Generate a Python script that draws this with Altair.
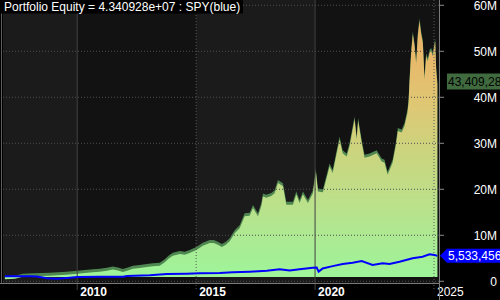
import altair as alt
import pandas as pd

# ---- data (decimal year, value in millions of dollars) ----
eq_year = [2006.96, 2007.38, 2007.71, 2008.14, 2008.52, 2008.85, 2009.19, 2009.55, 2010.00, 2010.32,
           2010.66, 2010.95, 2011.25, 2011.50, 2011.71, 2011.92, 2012.13, 2012.34, 2012.63, 2012.93,
           2013.18, 2013.47, 2013.68, 2013.85, 2014.02, 2014.31, 2014.52, 2014.73, 2015.03, 2015.28,
           2015.57, 2015.74, 2015.91, 2016.08, 2016.25, 2016.41, 2016.62, 2016.83, 2017.04, 2017.25,
           2017.39, 2017.60, 2017.74, 2017.81, 2017.95, 2018.16, 2018.30, 2018.44, 2018.65, 2018.79,
           2019.07, 2019.21, 2019.35, 2019.49, 2019.70, 2019.84, 2019.91, 2020.03, 2020.12, 2020.33,
           2020.54, 2020.61, 2020.74, 2020.91, 2021.03, 2021.16, 2021.33, 2021.45, 2021.58, 2021.66,
           2021.75, 2021.81, 2021.96, 2022.08, 2022.29, 2022.59, 2022.80, 2022.92, 2023.05, 2023.26,
           2023.39, 2023.48, 2023.64, 2023.76, 2023.88, 2023.93, 2023.97, 2024.04, 2024.11, 2024.18,
           2024.25, 2024.32, 2024.39, 2024.46, 2024.53, 2024.60, 2024.67, 2024.74, 2024.81, 2024.88,
           2024.95, 2024.99, 2025.05, 2025.09, 2025.14]
eq_value = [1.10, 1.20, 1.65, 1.74, 1.80, 1.87, 1.95, 2.10, 2.30, 2.45,
            2.60, 2.75, 2.96, 3.20, 3.00, 2.67, 3.00, 3.40, 3.55, 3.76,
            3.90, 4.05, 4.80, 5.60, 6.20, 6.60, 6.40, 6.80, 7.50, 8.40,
            9.00, 9.00, 8.60, 8.10, 8.60, 9.35, 11.1, 12.2, 14.8, 14.9,
            16.6, 14.8, 17.0, 19.1, 18.8, 19.2, 19.8, 22.0, 21.3, 17.3,
            17.3, 19.5, 17.7, 19.5, 17.7, 19.1, 19.8, 24.6, 20.2, 20.0,
            24.2, 25.6, 24.2, 28.5, 31.4, 28.5, 27.8, 30.0, 33.6, 35.8,
            31.4, 35.5, 30.7, 27.5, 27.8, 28.5, 26.7, 26.4, 23.8, 26.4,
            30.0, 33.3, 33.0, 34.4, 37.2, 39.4, 43.8, 50.3, 54.3, 51.8,
            48.0, 54.0, 57.2, 54.3, 52.4, 44.5, 49.6, 48.5, 50.3, 50.7,
            49.6, 51.0, 52.8, 46.6, 43.41]

spy_year = [2006.96, 2008.01, 2008.31, 2008.73, 2009.15, 2009.69, 2010.00, 2010.95, 2011.92, 2012.09,
            2013.05, 2013.77, 2014.61, 2015.15, 2015.99, 2016.54, 2017.25, 2017.97, 2018.51, 2018.93,
            2019.35, 2019.90, 2020.07, 2020.15, 2020.32, 2020.74, 2021.16, 2021.58, 2021.96, 2022.42,
            2022.84, 2023.13, 2023.55, 2024.10, 2024.52, 2024.81, 2025.02, 2025.14]
spy_value = [1.09, 1.09, 1.05, 0.65, 0.57, 0.78, 0.93, 1.00, 1.00, 1.15,
             1.30, 1.59, 1.65, 1.74, 1.80, 1.95, 2.10, 2.30, 2.60, 2.35,
             2.60, 2.96, 3.00, 2.10, 2.80, 3.30, 3.76, 4.05, 4.40, 3.54,
             3.90, 3.76, 4.26, 5.00, 5.35, 5.87, 5.70, 5.53]

band_start = [2006.88, 2010, 2015, 2020]
band_end = [2010, 2015, 2020, 2025.21]
band_shade = ["#1b1b1b", "#121212", "#1b1b1b", "#121212"]

grid_values = [0, 10, 20, 30, 40, 50, 60]
grid_labels = ["0", "10M", "20M", "30M", "40M", "50M", "60M"]
year_ticks = [2010, 2015, 2020, 2025]
year_solid = [True, False, True, False]
year_bold = [True, True, True, False]

title_text = "Portfolio Equity = 4.340928e+07 : SPY(blue)"
eq_label = "43,409,28"
spy_label = "5,533,456"
eq_last = eq_value[-1]
spy_last = spy_value[-1]
base_value = 0.93

# ---- layout ----
W, H = 436, 283
FONT = "Liberation Sans"

eq_df = pd.DataFrame({"year": eq_year, "value": eq_value})
spy_df = pd.DataFrame({"year": spy_year, "value": spy_value})
band_df = pd.DataFrame({"year": band_start, "year_end": band_end, "shade": band_shade})
grid_df = pd.DataFrame({"value": grid_values, "label": grid_labels})
yr_df = pd.DataFrame({"year": year_ticks, "solid": year_solid, "bold": year_bold,
                      "label": [str(y) for y in year_ticks]})

xscale = alt.Scale(domain=[2006.88, 2025.21], nice=False, zero=False)
yscale = alt.Scale(domain=[-0.37, 61.15], nice=False, zero=False)
X = alt.X("year:Q", scale=xscale, axis=None)
Y = alt.Y("value:Q", scale=yscale, axis=None)


def Yd(v):
    return alt.Y(datum=v, scale=yscale, axis=None)


bands = alt.Chart(band_df).mark_rect().encode(
    x=X, x2="year_end:Q", y=alt.value(0), y2=alt.value(H),
    color=alt.Color("shade:N", scale=None))

eq_dark = alt.Chart(eq_df).mark_area(color="#4f8750").encode(
    x=X, y=Y, y2=alt.datum(base_value))

grad = alt.Gradient(gradient="linear", x1=0, x2=0, y1=0, y2=1, stops=[
    alt.GradientStop(offset=0.0, color="#eab266"),
    alt.GradientStop(offset=0.15, color="#e8b96b"),
    alt.GradientStop(offset=0.32, color="#dfc774"),
    alt.GradientStop(offset=0.51, color="#cbd47e"),
    alt.GradientStop(offset=0.70, color="#bce08a"),
    alt.GradientStop(offset=0.90, color="#a6ee96"),
    alt.GradientStop(offset=1.0, color="#9ef59a"),
])
eq_fill = alt.Chart(eq_df).mark_area(color=grad, yOffset=3).encode(
    x=X, y=Y, y2=alt.datum(base_value))

vsolid = alt.Chart(yr_df).transform_filter("datum.solid").mark_rule(
    color="#424242", strokeWidth=1).encode(x=X, y=alt.value(0), y2=alt.value(H + 7))
vdot = alt.Chart(yr_df).transform_filter("!datum.solid").mark_rule(
    color="#5a5a5a", strokeWidth=1, strokeDash=[1, 2]).encode(
    x=X, y=alt.value(0), y2=alt.value(H + 7))
hgrid = alt.Chart(grid_df).mark_rule(color="#4e4e4e", strokeWidth=1, strokeDash=[1, 2]).encode(
    y=Y, x=alt.value(0), x2=alt.value(W))

spy_line = alt.Chart(spy_df).mark_line(color="#0000ff", strokeWidth=2).encode(x=X, y=Y)

# right-hand value axis: ticks and labels
yticks = alt.Chart(grid_df).mark_rule(color="#8a8a8a", strokeWidth=1).encode(
    y=Y, x=alt.value(W + 0.5), x2=alt.value(W + 5))
ylabels = alt.Chart(grid_df).mark_text(
    align="right", baseline="middle", dy=1, font=FONT, fontSize=12, color="#ffffff").encode(
    y=Y, x=alt.value(W + 58), text="label:N")

lab_bold = alt.Chart(yr_df).transform_filter("datum.bold").mark_text(
    align="left", baseline="middle", dx=3, font=FONT, fontSize=12, fontWeight="bold",
    color="#ffffff").encode(x=X, y=alt.value(H + 9), text="label:N")
lab_norm = alt.Chart(yr_df).transform_filter("!datum.bold").mark_text(
    align="left", baseline="middle", dx=3, font=FONT, fontSize=12, fontWeight="normal",
    color="#ffffff").encode(x=X, y=alt.value(H + 9), text="label:N")

chrome_df = pd.DataFrame({"k": [0]})
right_line = alt.Chart(chrome_df).mark_rule(color="#7a7a7a").encode(
    x=alt.value(W + 0.5), y=alt.value(0), y2=alt.value(H + 17))
bottom_line = alt.Chart(chrome_df).mark_rule(color="#7a7a7a").encode(
    x=alt.value(-3), x2=alt.value(W + 0.5), y=alt.value(H + 0.5))
left_line = alt.Chart(chrome_df).mark_rule(color="#5e5e5e").encode(
    x=alt.value(-1.5), y=alt.value(13), y2=alt.value(H))

title_bg = alt.Chart(chrome_df).mark_rect(color="#000000").encode(
    x=alt.value(-3), x2=alt.value(240), y=alt.value(0), y2=alt.value(13.5))
title = alt.Chart(chrome_df).mark_text(
    align="left", baseline="middle", font=FONT, fontSize=12, color="#ffffff").encode(
    x=alt.value(1), y=alt.value(7), text=alt.value(title_text))

lab_df = pd.DataFrame({"k": [0]})
eq_box = alt.Chart(lab_df).mark_rect(color="#3f6b3f", yOffset=-8, y2Offset=8).encode(
    x=alt.value(W + 8), x2=alt.value(W + 61), y=Yd(eq_last), y2=alt.datum(eq_last))
eq_txt = alt.Chart(lab_df).mark_text(
    align="left", baseline="middle", font=FONT, fontSize=12, color="#000000").encode(
    x=alt.value(W + 9), y=Yd(eq_last), text=alt.value(eq_label))
spy_box = alt.Chart(lab_df).mark_rect(color="#0000ff", yOffset=-7, y2Offset=7).encode(
    x=alt.value(W + 7.5), x2=alt.value(W + 61), y=Yd(spy_last), y2=alt.datum(spy_last))
spy_arrow = alt.Chart(lab_df).mark_point(
    shape="M0,0L1,-1L1,1Z", filled=True, opacity=1, size=196, color="#0000ff", strokeWidth=0).encode(
    x=alt.value(W + 1), y=Yd(spy_last))
spy_txt = alt.Chart(lab_df).mark_text(
    align="left", baseline="middle", font=FONT, fontSize=12, color="#ffffff").encode(
    x=alt.value(W + 9), y=Yd(spy_last), text=alt.value(spy_label))

chart = alt.layer(
    bands, eq_dark, eq_fill, vsolid, vdot, hgrid, spy_line,
    yticks, ylabels, lab_bold, lab_norm, right_line, bottom_line, left_line,
    title_bg, title, eq_box, eq_txt, spy_box, spy_arrow, spy_txt
).properties(
    width=W, height=H,
    autosize=alt.AutoSizeParams(type="none"),
    padding={"left": 3, "top": 0, "right": 61, "bottom": 17},
    background="#000000",
).configure_view(stroke=None, fill="#121212")

chart.save("out.html", embed_options={"renderer": "svg", "actions": False})
